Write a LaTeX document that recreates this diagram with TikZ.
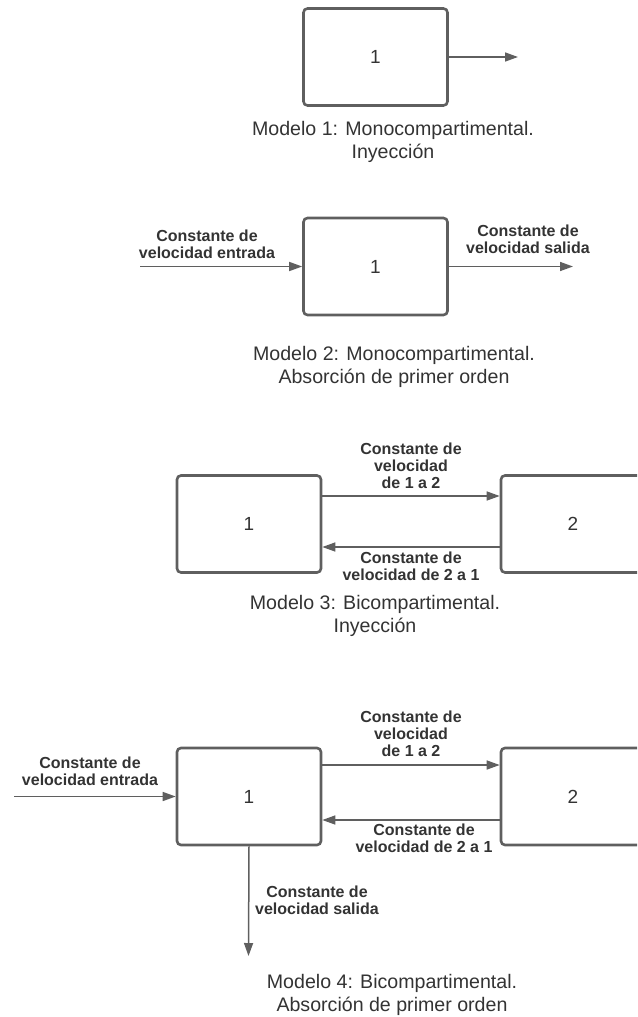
\documentclass[tikz,border=0pt]{standalone}
\usepackage{fontspec}
\setmainfont{Liberation Sans}
\usetikzlibrary{arrows.meta}
\definecolor{linegray}{HTML}{5F5F5F}
\definecolor{textgray}{HTML}{333333}
\begin{document}
\begin{tikzpicture}[x=1pt,y=-1pt,
  compbox/.style={draw=linegray, line width=2.6pt, rounded corners=4pt,
    minimum width=144pt, minimum height=97pt, inner sep=0pt,
    text=textgray, font=\fontsize{19}{23}\selectfont},
  flow/.style={draw=linegray, line width=1.5pt,
    -{Triangle[length=13pt,width=9pt]}},
  ratelabel/.style={align=center, text=textgray, inner sep=0pt,
    font=\fontsize{16}{17}\selectfont\bfseries},
  caption/.style={align=center, text=textgray, inner sep=0pt,
    font=\fontsize{19.6}{23.5}\selectfont}]

\useasboundingbox (0,0) rectangle (637,1017);
\clip (0,0) rectangle (637,1017);

% Modelo 1
\node[compbox] (m1) at (375.5,57) {1};
\coordinate (m1out) at (518,57);
\draw[flow] (m1.east) -- (m1out);
\node[caption] (c1) at (393,142) {Modelo 1: Monocompartimental.\\Inyección};

% Modelo 2
\node[compbox] (m2) at (375.5,266.5) {1};
\coordinate (m2in) at (140,266.5);
\coordinate (m2out) at (573,266.5);
\draw[flow] (m2in) -- (m2.west);
\draw[flow] (m2.east) -- (m2out);
\node[ratelabel] (l2in) at (207,244.5) {Constante de\\velocidad entrada};
\node[ratelabel] (l2out) at (528,239) {Constante de\\velocidad salida};
\node[caption] (c2) at (394,367) {Modelo 2: Monocompartimental.\\Absorción de primer orden};

% Modelo 3
\node[compbox] (m3a) at (249,524) {1};
\node[compbox] (m3b) at (573,524) {2};
\draw[flow] ([yshift=28pt]m3a.east) -- ([yshift=28pt]m3b.west);
\draw[flow] ([yshift=-23pt]m3b.west) -- ([yshift=-23pt]m3a.east);
\node[ratelabel] (l3ab) at (411,466) {Constante de\\velocidad\\de 1 a 2};
\node[ratelabel] (l3ba) at (411,566) {Constante de\\velocidad de 2 a 1};
\node[caption] (c3) at (375,616) {Modelo 3: Bicompartimental.\\Inyección};

% Modelo 4
\node[compbox] (m4a) at (249,796.5) {1};
\node[compbox] (m4b) at (573,796.5) {2};
\coordinate (m4in) at (14,796.5);
\coordinate (m4out) at (248.5,956);
\draw[flow] (m4in) -- (m4a.west);
\draw[flow] ([yshift=31.5pt]m4a.east) -- ([yshift=31.5pt]m4b.west);
\draw[flow] ([yshift=-23.5pt]m4b.west) -- ([yshift=-23.5pt]m4a.east);
\draw[flow] (m4a.south) -- (m4out);
\node[ratelabel] (l4in) at (90,771.5) {Constante de\\velocidad entrada};
\node[ratelabel] (l4ab) at (411,734) {Constante de\\velocidad\\de 1 a 2};
\node[ratelabel] (l4ba) at (424,838) {Constante de\\velocidad de 2 a 1};
\node[ratelabel] (l4out) at (317,900) {Constante de\\velocidad salida};
\node[caption] (c4) at (392,995) {Modelo 4: Bicompartimental.\\Absorción de primer orden};

\end{tikzpicture}
\end{document}
